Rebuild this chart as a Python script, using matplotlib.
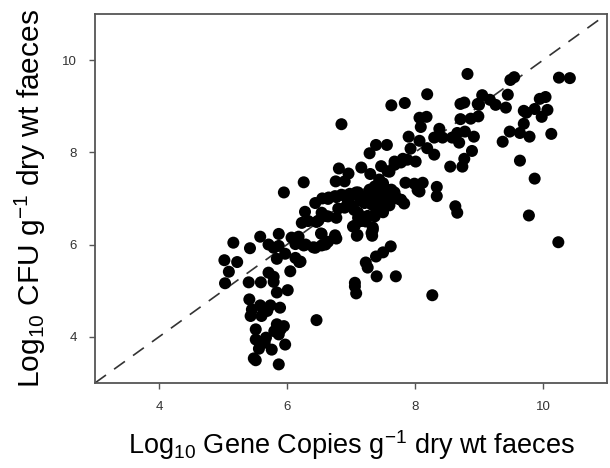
#!/usr/bin/env python
import numpy as np
import matplotlib
matplotlib.use('Agg')
import matplotlib.pyplot as plt

plt.rcParams['font.family'] = ['Liberation Sans', 'DejaVu Sans']
plt.rcParams['mathtext.fontset'] = 'custom'
plt.rcParams['mathtext.rm'] = 'Liberation Sans'
plt.rcParams['mathtext.default'] = 'regular'

# lower-left cluster
x_low = [5.16, 5.02, 5.22, 5.09, 5.03, 5.40, 5.59, 5.42, 5.58, 5.87, 5.71, 5.79,
         5.87, 5.84, 5.97, 6.13, 6.19, 6.05, 5.71, 5.79, 5.79, 5.84, 6.01, 5.41,
         5.45, 5.58, 5.74, 5.89, 5.69, 5.60, 5.43, 5.84, 5.95, 5.90, 5.87, 5.51,
         5.51, 5.67, 5.65, 5.97, 5.56, 5.76, 5.48, 5.51, 5.87, 5.63, 5.80, 5.95,
         6.07, 6.18, 6.13, 6.26, 6.21, 6.29]
y_low = [6.04, 5.66, 5.62, 5.41, 5.16, 5.18, 5.18, 5.92, 6.17, 6.23, 6.00, 5.93,
         5.97, 5.69, 5.80, 5.71, 5.62, 5.42, 5.39, 5.30, 5.19, 4.96, 5.01, 4.81,
         4.59, 4.68, 4.68, 4.63, 4.56, 4.45, 4.45, 4.27, 4.23, 4.16, 4.05, 4.16,
         3.94, 3.98, 3.87, 3.83, 3.74, 3.72, 3.53, 3.49, 3.40, 4.60, 4.12, 7.13,
         6.15, 6.17, 6.01, 5.98, 5.63, 6.00]

# middle band
x_mid = [6.44, 6.54, 6.64, 6.77, 6.75, 6.54, 6.41, 6.60, 6.53, 6.75,
         6.23, 6.33, 6.46, 6.49, 6.64, 6.77, 6.54, 6.60, 6.28, 6.80, 6.90, 6.44,
         6.64, 6.77, 6.90, 7.06, 7.11, 7.16, 7.26, 7.37, 7.06, 7.10, 7.34, 7.32,
         7.03, 7.09, 7.23, 7.37, 7.11, 7.21, 7.32, 7.42, 7.47, 7.57, 7.68, 7.78,
         7.83, 7.37, 7.50, 6.26, 6.81, 6.96, 6.76, 6.90, 7.16, 7.30, 7.47, 7.57,
         7.44, 7.29, 7.47, 7.63, 7.11, 6.55, 6.65, 6.75, 6.85, 6.98, 7.08, 7.18,
         7.33, 7.40, 7.52, 7.62, 7.72, 7.00, 7.15, 7.25, 6.95, 7.05, 7.45, 7.55,
         7.60, 7.40, 7.50]
y_mid = [5.93, 5.98, 6.06, 6.13, 6.20, 6.23, 5.94, 6.00, 6.24, 6.15,
         6.47, 6.51, 6.49, 6.52, 6.61, 6.58, 6.69, 6.62, 6.71, 6.78, 6.80, 6.90,
         6.99, 7.03, 7.06, 7.08, 6.69, 6.51, 6.62, 6.65, 6.41, 6.21, 6.37, 6.25,
         6.39, 6.19, 6.50, 6.61, 6.58, 6.90, 6.87, 6.94, 7.12, 7.19, 7.08, 6.97,
         6.89, 7.26, 7.33, 7.35, 7.65, 7.54, 7.37, 7.37, 7.67, 7.53, 7.70, 7.59,
         7.41, 7.19, 7.23, 7.19, 7.13, 7.00, 7.02, 7.05, 7.08, 7.10, 7.13, 7.05,
         7.10, 7.03, 7.10, 7.05, 7.00, 6.85, 6.95, 7.00, 6.92, 6.75, 6.80, 6.95,
         6.85, 6.75, 6.70]

# points well below the line
x_out = [6.46, 7.06, 7.08, 7.06, 7.23, 7.26, 7.39, 7.50, 7.62, 7.40, 7.70, 8.27,
         7.33, 7.34, 8.34, 8.34, 8.63, 8.66, 9.78, 10.24]
y_out = [4.36, 5.09, 4.94, 5.17, 5.61, 5.50, 5.74, 5.83, 5.96, 5.31, 5.31, 4.90,
         6.19, 6.32, 7.25, 7.05, 6.83, 6.69, 6.63, 6.05]

# upper cluster
x_up = [6.85, 7.63, 7.84, 8.19, 7.39, 7.56, 7.29, 7.68, 7.78, 7.88, 7.60, 7.81,
        7.68, 8.01, 7.93, 7.90, 8.07, 8.07, 8.18, 8.09, 8.38, 8.43, 8.30, 8.19,
        8.30, 7.85, 7.99, 8.12, 8.07, 7.68, 7.78, 8.04, 8.58, 8.66, 8.78, 8.92,
        8.69, 8.89, 8.77, 8.74, 8.55, 8.82, 8.71, 8.77, 8.98, 9.05, 8.71, 8.87,
        8.99]
y_up = [8.61, 9.02, 9.07, 9.26, 8.16, 8.16, 7.98, 7.73, 7.78, 7.84, 7.58, 7.86,
        7.80, 7.80, 8.08, 8.34, 8.25, 8.75, 8.77, 8.55, 8.51, 8.32, 8.32, 8.09,
        7.95, 7.34, 7.32, 7.34, 7.15, 7.13, 6.97, 7.18, 8.32, 8.42, 8.45, 8.34,
        8.21, 8.03, 7.86, 7.69, 7.69, 9.70, 9.05, 9.08, 9.05, 9.24, 8.72, 8.73,
        8.78]

# upper right
x_hi = [9.49, 9.55, 10.25, 10.42, 9.45, 9.17, 9.26, 9.42, 9.00, 9.95, 10.04,
        9.70, 9.74, 9.87, 10.07, 9.98, 9.70, 9.48, 9.64, 9.79, 10.13, 9.37,
        9.64, 9.87]
y_hi = [9.57, 9.63, 9.62, 9.61, 9.25, 9.14, 9.03, 8.97, 9.03, 9.16, 9.20,
        8.90, 8.86, 8.94, 8.92, 8.77, 8.62, 8.45, 8.42, 8.34, 8.40, 8.23,
        7.82, 7.43]

x = np.array(x_low + x_mid + x_out + x_up + x_hi)
y = np.array(y_low + y_mid + y_out + y_up + y_hi)

fig = plt.figure(figsize=(6.10, 4.68), dpi=100)
ax = fig.add_axes([0.156, 0.182, 0.839, 0.788])

ax.plot([3, 11], [3, 11], color='#333333', lw=1.2, ls=(0, (8, 6)), zorder=1)
ax.scatter(x, y, s=75, color='black', edgecolors='none', zorder=2)

ax.set_xlim(3, 11)
ax.set_ylim(3, 11)
ax.set_xticks([4, 6, 8, 10])
ax.set_yticks([4, 6, 8, 10])

for sp in ax.spines.values():
    sp.set_color('#555555')
    sp.set_linewidth(1.3)
ax.tick_params(direction='out', length=4, width=1, color='#555555',
               labelsize=9.5, labelcolor='#333333', pad=9)

ax.set_xlabel(r'Log$_{10}$ Gene Copies g$^{-1}$ dry wt faeces', fontsize=19.5, labelpad=11)
ax.set_ylabel(r'Log$_{10}$ CFU g$^{-1}$ dry wt faeces', fontsize=21.5, labelpad=10)

plt.savefig('out.png', dpi=100)
